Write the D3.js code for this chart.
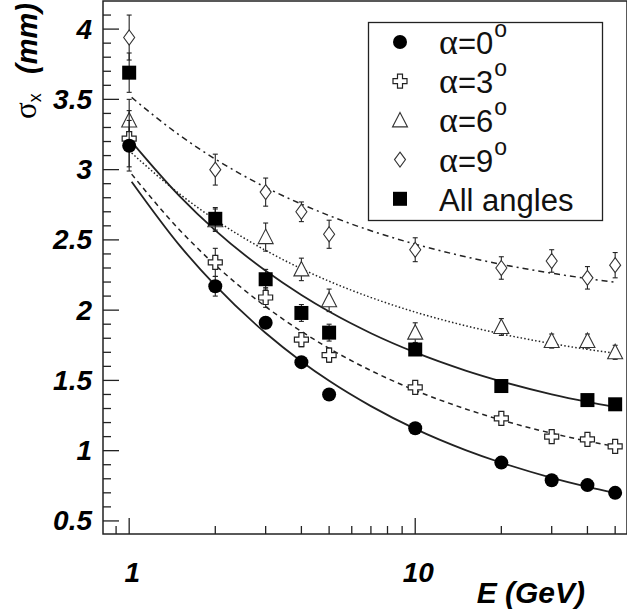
<!DOCTYPE html>
<html>
<head>
<meta charset="utf-8">
<script src="https://cdn.jsdelivr.net/npm/d3@7"></script>
<style>
  body { margin: 0; background: #fff; }
  svg { display: block; }
</style>
</head>
<body>
<svg id="chart" width="627" height="612"></svg>
<script>
// energias medidas (GeV)
const energias = [1, 2, 3, 4, 5, 10, 20, 30, 40, 50];
const energiasTodos = [1, 2, 3, 4, 5, 10, 20, 40, 50];

// resolucao sigma_x (mm) por angulo
const alfa0 = [3.17, 2.17, 1.91, 1.63, 1.40, 1.16, 0.915, 0.79, 0.755, 0.70];
const alfa0Err = [0.18, 0.07, 0.04, 0.04, 0.03, 0.03, 0.02, 0.02, 0.02, 0.02];
const alfa3 = [3.22, 2.34, 2.09, 1.79, 1.68, 1.45, 1.23, 1.10, 1.08, 1.03];
const alfa3Err = [0.2, 0.1, 0.07, 0.05, 0.05, 0.03, 0.03, 0.03, 0.03, 0.03];
const alfa6 = [3.35, 2.64, 2.52, 2.29, 2.07, 1.84, 1.88, 1.78, 1.78, 1.70];
const alfa6Err = [0.15, 0.08, 0.1, 0.08, 0.08, 0.07, 0.06, 0.05, 0.05, 0.05];
const alfa9 = [3.94, 3.00, 2.84, 2.70, 2.54, 2.43, 2.30, 2.35, 2.23, 2.32];
const alfa9Err = [0.16, 0.11, 0.1, 0.07, 0.1, 0.085, 0.08, 0.08, 0.08, 0.09];
const todos = [3.69, 2.65, 2.22, 1.98, 1.84, 1.72, 1.46, 1.36, 1.33];
const todosErr = [0.14, 0.08, 0.07, 0.06, 0.06, 0.04, 0.03, 0.03, 0.03];

// curvas de ajuste
const ajusteE = [1.02, 1.5, 2, 3, 4, 5, 7, 10, 15, 20, 30, 40, 50];
const ajuste0 = [2.914, 2.461, 2.176, 1.837, 1.635, 1.497, 1.317, 1.155, 1.004, 0.914, 0.807, 0.743, 0.699];
const ajuste3 = [2.968, 2.571, 2.321, 2.025, 1.849, 1.728, 1.570, 1.429, 1.297, 1.218, 1.124, 1.068, 1.030];
const ajuste6 = [3.118, 2.827, 2.643, 2.425, 2.295, 2.206, 2.090, 1.986, 1.889, 1.831, 1.762, 1.721, 1.693];
const ajuste9 = [3.514, 3.245, 3.075, 2.874, 2.755, 2.673, 2.565, 2.470, 2.380, 2.326, 2.263, 2.225, 2.199];
const ajusteTodos = [3.198, 2.812, 2.568, 2.280, 2.108, 1.990, 1.836, 1.699, 1.570, 1.493, 1.401, 1.347, 1.310];

const yTicks = [0.5, 1, 1.5, 2, 2.5, 3, 3.5, 4];
const xTicks = [1, 10];
const legendas = ["α=0", "α=3", "α=6", "α=9", "All angles"];

const svg = d3.select("#chart");
const cor = "#222";
const margemEsq = 103, margemDir = 627, margemSup = 1, margemInf = 534;

const x = d3.scaleLog().domain([0.81, 55]).range([margemEsq, margemDir]);
const y = d3.scaleLinear().domain([0.407, 4.2]).range([margemInf, margemSup]);

// moldura
svg.append("rect").attr("x", margemEsq).attr("y", margemSup)
  .attr("width", margemDir - margemEsq).attr("height", margemInf - margemSup)
  .attr("fill", "none").attr("stroke", cor).attr("stroke-width", 1.5);

// ticks do eixo y
const g = svg.append("g");
d3.range(5, 42).map(v => v / 10).forEach(v => {
  const major = Math.abs(v * 2 - Math.round(v * 2)) < 1e-6;
  g.append("line").attr("x1", margemEsq).attr("x2", margemEsq + (major ? 16 : 8))
    .attr("y1", y(v)).attr("y2", y(v)).attr("stroke", cor).attr("stroke-width", 1.3);
});
// ticks do eixo x
const xMinor = [0.9, 2, 3, 4, 5, 6, 7, 8, 9, 20, 30, 40, 50];
xMinor.forEach(v => {
  g.append("line").attr("x1", x(v)).attr("x2", x(v)).attr("y1", margemInf).attr("y2", margemInf - 8)
    .attr("stroke", cor).attr("stroke-width", 1.3);
});
xTicks.forEach(v => {
  g.append("line").attr("x1", x(v)).attr("x2", x(v)).attr("y1", margemInf).attr("y2", margemInf - 16)
    .attr("stroke", cor).attr("stroke-width", 1.3);
});

const fonteEixo = "Liberation Sans, Arial, Helvetica, sans-serif";
svg.selectAll(".ylab").data(yTicks).enter().append("text")
  .attr("x", 92).attr("y", d => y(d) + 9.5)
  .attr("text-anchor", "end")
  .style("font-family", fonteEixo).style("font-size", "28px")
  .style("font-weight", "bold").style("font-style", "italic")
  .text(d => d);
svg.selectAll(".xlab").data(xTicks).enter().append("text")
  .attr("x", d => x(d) + 3).attr("y", 582)
  .attr("text-anchor", "middle")
  .style("font-family", fonteEixo).style("font-size", "28px")
  .style("font-weight", "bold").style("font-style", "italic")
  .text(d => d);

// titulos
svg.append("text").attr("x", 585).attr("y", 603).attr("text-anchor", "end")
  .style("font-family", fonteEixo).style("font-size", "30px")
  .style("font-weight", "bold").style("font-style", "italic")
  .text("E (GeV)");
const ty = svg.append("text").attr("transform", "translate(36,119) rotate(-90)")
  .style("font-family", fonteEixo);
ty.append("tspan").style("font-family", "Liberation Serif, serif").style("font-size", "31px").text("σ");
ty.append("tspan").attr("dy", 5).style("font-size", "18px").text("x");
svg.append("text").attr("transform", "translate(37,3) rotate(-90)").attr("text-anchor", "end")
  .style("font-family", fonteEixo).style("font-size", "29px")
  .style("font-weight", "bold").style("font-style", "italic")
  .text("(mm)");

// curvas de ajuste
const linha = vals => d3.line().x((d, i) => x(ajusteE[i])).y(d => y(d)).curve(d3.curveMonotoneX)(vals);
const curvas = [
  { v: ajuste0, dash: null },
  { v: ajuste3, dash: "5,4" },
  { v: ajuste6, dash: "1.5,2.2" },
  { v: ajuste9, dash: "6,4,2,4" },
  { v: ajusteTodos, dash: null }
];
curvas.forEach(c => {
  svg.append("path").attr("d", linha(c.v)).attr("fill", "none")
    .attr("stroke", cor).attr("stroke-width", c.dash ? 1.5 : 1.8)
    .attr("stroke-dasharray", c.dash);
});

// marcadores
function marcador(sel, tipo) {
  if (tipo === "circulo") {
    sel.append("circle").attr("r", 7).attr("fill", "#000");
  } else if (tipo === "quadrado") {
    sel.append("rect").attr("x", -7).attr("y", -7).attr("width", 14).attr("height", 14).attr("fill", "#000");
  } else if (tipo === "cruz") {
    const a = 2.5, b = 7;
    sel.append("path")
      .attr("d", `M${-a},${-b}H${a}V${-a}H${b}V${a}H${a}V${b}H${-a}V${a}H${-b}V${-a}H${-a}Z`)
      .attr("fill", "#fff").attr("stroke", cor).attr("stroke-width", 1.2);
  } else if (tipo === "triangulo") {
    sel.append("path").attr("d", "M0,-8L7.5,6.5L-7.5,6.5Z")
      .attr("fill", "#fff").attr("stroke", "#333").attr("stroke-width", 1.1);
  } else if (tipo === "losango") {
    sel.append("path").attr("d", "M0,-7.5L5.5,0L0,7.5L-5.5,0Z")
      .attr("fill", "#fff").attr("stroke", "#333").attr("stroke-width", 1.1);
  }
}

const series = [
  { e: energias, v: alfa9, err: alfa9Err, tipo: "losango" },
  { e: energias, v: alfa6, err: alfa6Err, tipo: "triangulo" },
  { e: energias, v: alfa3, err: alfa3Err, tipo: "cruz" },
  { e: energiasTodos, v: todos, err: todosErr, tipo: "quadrado" },
  { e: energias, v: alfa0, err: alfa0Err, tipo: "circulo" }
];
series.forEach(s => {
  const pts = s.e.map((e, i) => ({ e, v: s.v[i], err: s.err[i] }));
  const grp = svg.append("g");
  pts.forEach(p => {
    const px = x(p.e), y1 = y(p.v + p.err), y2 = y(p.v - p.err);
    grp.append("line").attr("x1", px).attr("x2", px).attr("y1", y1).attr("y2", y2)
      .attr("stroke", cor).attr("stroke-width", 1.1);
    [y1, y2].forEach(yy => grp.append("line").attr("x1", px - 2.5).attr("x2", px + 2.5)
      .attr("y1", yy).attr("y2", yy).attr("stroke", cor).attr("stroke-width", 1.1));
  });
  pts.forEach(p => {
    marcador(grp.append("g").attr("transform", `translate(${x(p.e)},${y(p.v)})`), s.tipo);
  });
});

// legenda
svg.append("rect").attr("x", 368.5).attr("y", 22.5).attr("width", 234).attr("height", 198)
  .attr("fill", "#fff").attr("stroke", cor).attr("stroke-width", 1.3);
const tiposLeg = ["circulo", "cruz", "triangulo", "losango", "quadrado"];
legendas.forEach((txt, i) => {
  const cy = 42 + i * 39.2;
  marcador(svg.append("g").attr("transform", `translate(400,${cy})`), tiposLeg[i]);
  const t = svg.append("text").attr("x", 439).attr("y", cy + 12)
    .style("font-family", fonteEixo).style("font-size", "31px").attr("fill", "#111");
  if (i < 4) {
    t.append("tspan").style("font-family", "Liberation Serif, serif").style("font-size", "36px").text("α");
    t.append("tspan").text(txt.slice(1));
    t.append("tspan").attr("dy", -17).attr("dx", 1).style("font-size", "23px").text("o");
  } else {
    t.text(txt);
  }
});
</script>
</body>
</html>
